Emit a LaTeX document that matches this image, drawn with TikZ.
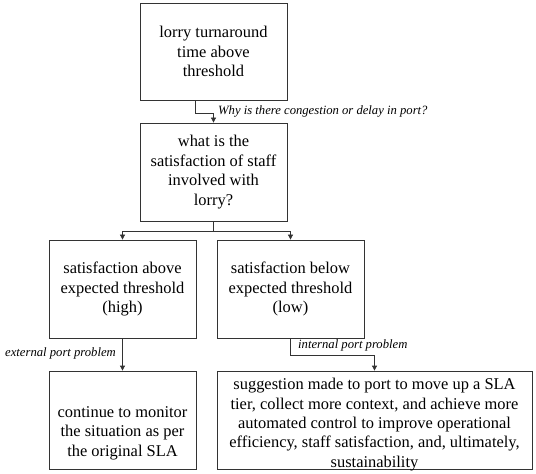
\documentclass[tikz,border=0pt]{standalone}
\usepackage{fontspec}
\setmainfont{Liberation Serif}
\usetikzlibrary{arrows.meta}
\begin{document}
\begin{tikzpicture}[x=1bp,y=-1bp,
  box/.style={draw=black!80, line width=0.8bp, align=center, inner sep=0pt, font=\fontsize{16.5}{19.5}\selectfont},
  txt/.style={align=center, inner sep=0pt, font=\fontsize{16.5}{19.5}\selectfont},
  lbl/.style={font=\fontsize{12.7}{15}\selectfont\itshape, inner sep=0pt},
  conn/.style={draw=black!80, line width=0.8bp},
  arr/.style={conn, -{Triangle[length=5bp,width=5bp]}}]
\useasboundingbox (0,0) rectangle (536,474);
\node[box, minimum width=147bp, minimum height=97bp] (b1) at (213.5,51.5) {lorry turnaround\\time above\\threshold};
\node[box, minimum width=147bp, minimum height=98bp] (b2) at (213.5,172) {what is the\\satisfaction of staff\\involved with\\lorry?};
\node[box, minimum width=147bp, minimum height=98bp] (b3) at (122.5,289) {satisfaction above\\expected threshold\\(high)};
\node[box, minimum width=147bp, minimum height=98bp] (b4) at (290.5,289) {satisfaction below\\expected threshold\\(low)};
\node[box, minimum width=147bp, minimum height=98bp] (b5) at (122.5,420) {};
\node[txt] (b5t) at (122.5,433) {continue to monitor\\the situation as per\\the original SLA};
\node[box, minimum width=315bp, minimum height=98bp] (b6) at (374.5,420) {};
\node[txt] (b6t) at (374.5,424.5) {suggestion made to port to move up a SLA\\tier, collect more context, and achieve more\\automated control to improve operational\\efficiency, staff satisfaction, and, ultimately,\\sustainability};
% connectors
\coordinate (k1) at (195,113);
\draw[arr] (b1.south -| k1) -- (k1) -- (k1 -| b2.north) -- (b2.north);
\node[lbl, anchor=west] (l1) at (218,111) {Why is there congestion or delay in port?};
\coordinate (j2) at (213.5,231);
\draw[conn] (b2.south) -- (j2);
\draw[arr] (j2) -| (b3.north);
\draw[arr] (j2) -| (b4.north);
\draw[arr] (b3.south) -- (b5.north);
\node[lbl, anchor=east] (l2) at (116,353) {external port problem};
\coordinate (k4) at (290.5,355);
\draw[arr] (b4.south) -- (k4) -| (b6.north);
\node[lbl, anchor=west] (l3) at (298,345) {internal port problem};
\end{tikzpicture}
\end{document}
